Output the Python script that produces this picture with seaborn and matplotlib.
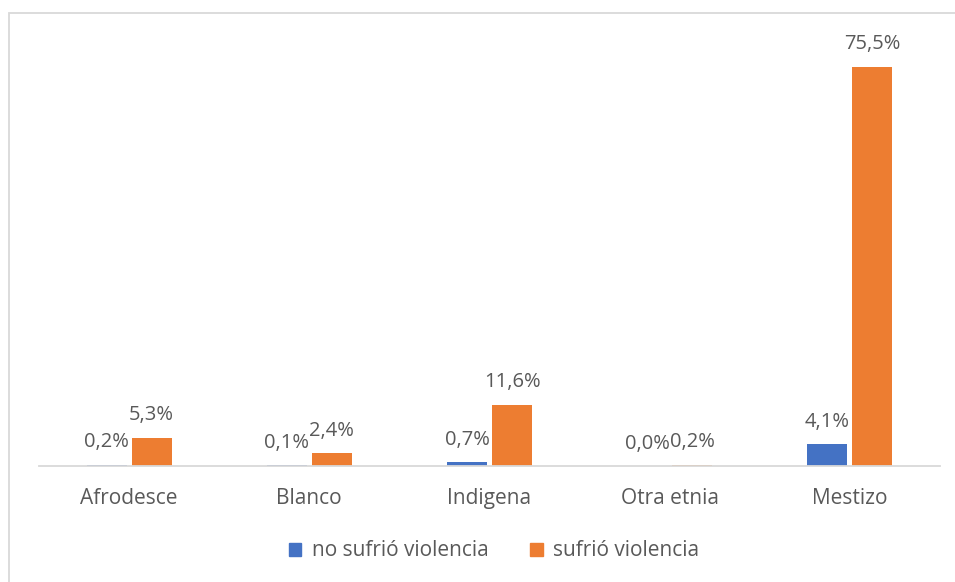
import matplotlib
matplotlib.use("Agg")
import matplotlib.pyplot as plt
import seaborn as sns
import pandas as pd
from matplotlib.patches import Rectangle

categories = ["Afrodesce", "Blanco", "Indigena", "Otra etnia", "Mestizo"]
no_sufrio = [0.2, 0.1, 0.7, 0.0, 4.1]
sufrio = [5.3, 2.4, 11.6, 0.2, 75.5]
series_names = ["no sufrió violencia", "sufrió violencia"]
colors = ["#4472C4", "#ED7D31"]

df = pd.DataFrame({
    "categoria": categories * 2,
    "valor": no_sufrio + sufrio,
    "serie": [series_names[0]] * len(categories) + [series_names[1]] * len(categories),
})

sns.set_theme(style="white")
plt.rcParams["font.family"] = ["Open Sans", "DejaVu Sans"]
text_color = "#595959"
fsize = 15

fig = plt.figure(figsize=(9.55, 5.82), dpi=100)
ax = fig.add_axes([39 / 955, 1 - 466 / 582, 901 / 955, 446 / 582])

sns.barplot(data=df, x="categoria", y="valor", hue="serie", order=categories,
            hue_order=series_names, palette=colors, width=0.5, gap=0.11,
            saturation=1, linewidth=0, ax=ax, legend=False)

ax.set_xlim(-0.5, len(categories) - 0.5)
ax.set_ylim(0, 84.3)
ax.set_xlabel("")
ax.set_ylabel("")
ax.set_yticks([])
for side in ["left", "right", "top"]:
    ax.spines[side].set_visible(False)
ax.spines["bottom"].set_color("#D9D9D9")
ax.spines["bottom"].set_linewidth(1.3)
ax.tick_params(axis="x", length=0, pad=16, labelsize=fsize, labelcolor=text_color)

for container in ax.containers:
    labels = [f"{v:.1f}%".replace(".", ",") for v in container.datavalues]
    ax.bar_label(container, labels=labels, padding=9, fontsize=14.5, color=text_color)

# legend below the axis
handles = [Rectangle((0, 0), 1, 1, color=c) for c in colors]
fig.legend(handles, series_names, loc="center", bbox_to_anchor=(494 / 955, 1 - 551 / 582),
           ncol=2, frameon=False, fontsize=fsize, labelcolor=text_color,
           handlelength=0.6, handleheight=0.6, handletextpad=0.5, columnspacing=2.0)

# chart area border
fig.patches.append(Rectangle((9 / 955, -0.5), 2.0, 1 - 13 / 582 + 0.5,
                             transform=fig.transFigure, fill=False,
                             edgecolor="#D9D9D9", linewidth=1.3))

fig.savefig("out.png", dpi=100)
